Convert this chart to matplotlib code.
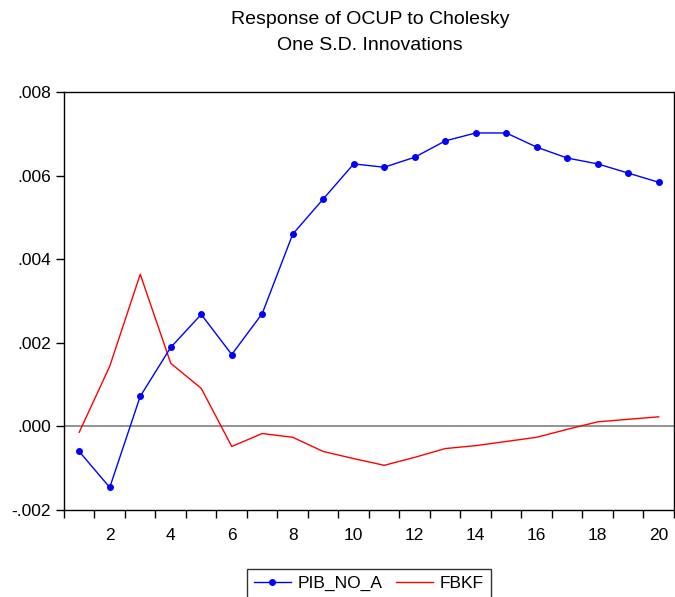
import numpy as np
import matplotlib.pyplot as plt
from matplotlib.ticker import FixedLocator, NullFormatter

plt.rcParams['font.family'] = ['Liberation Sans', 'DejaVu Sans']

periods = list(range(1, 21))
pib_no_a = [-0.00060, -0.00146, 0.00072, 0.00189, 0.00268, 0.00172, 0.00270, 0.00460,
            0.00544, 0.00628, 0.00620, 0.00644, 0.00683, 0.00702, 0.00702, 0.00668,
            0.00642, 0.00628, 0.00606, 0.00584]
fbkf = [-0.00014, 0.00144, 0.00364, 0.00151, 0.00091, -0.00048, -0.00017, -0.00026,
        -0.00060, -0.00077, -0.00093, -0.00074, -0.00053, -0.00046, -0.00036, -0.00026,
        -0.00007, 0.00011, 0.00017, 0.00023]
ytick_vals = [-0.002, 0.000, 0.002, 0.004, 0.006, 0.008]
ytick_labels = ['-.002', '.000', '.002', '.004', '.006', '.008']
title_lines = ['Response of OCUP to Cholesky', 'One S.D. Innovations']

fig = plt.figure(figsize=(6.75, 5.97), dpi=100)
ax = fig.add_axes([0.0948, 0.1457, 0.9037, 0.7002])

ax.axhline(0, color='#808080', lw=1.2, zorder=1)
ax.plot(periods, pib_no_a, color='blue', lw=1, marker='o', ms=4, label='PIB_NO_A', zorder=3)
ax.plot(periods, fbkf, color='red', lw=1, label='FBKF', zorder=2)

ax.set_xlim(0.5, 20.5)
ax.set_ylim(-0.002, 0.008)
ax.set_yticks(ytick_vals)
ax.set_yticklabels(ytick_labels)
# ticks between periods, labels at even periods
ax.xaxis.set_major_locator(FixedLocator(np.arange(0.5, 21, 1)))
ax.xaxis.set_major_formatter(NullFormatter())
ax.xaxis.set_minor_locator(FixedLocator(list(range(2, 21, 2))))
ax.set_xticklabels([str(p) for p in range(2, 21, 2)], minor=True)
ax.tick_params(axis='x', which='minor', length=0, labelsize=12.5, pad=13)
ax.tick_params(axis='x', which='major', length=6, width=1)
ax.tick_params(axis='y', length=6, width=1, labelsize=12.5)
for s in ax.spines.values():
    s.set_linewidth(1)

fig.text(0.548, 0.9665, title_lines[0], ha='center', va='center', fontsize=14)
fig.text(0.548, 0.923, title_lines[1], ha='center', va='center', fontsize=14)

ax.legend(loc='upper center', bbox_to_anchor=(0.5, -0.141), ncol=2, fontsize=12.5,
          frameon=True, fancybox=False, edgecolor='black', borderaxespad=0,
          handlelength=2.1, handletextpad=0.4, columnspacing=0.8, borderpad=0.4)

fig.savefig('out.png', dpi=100)
